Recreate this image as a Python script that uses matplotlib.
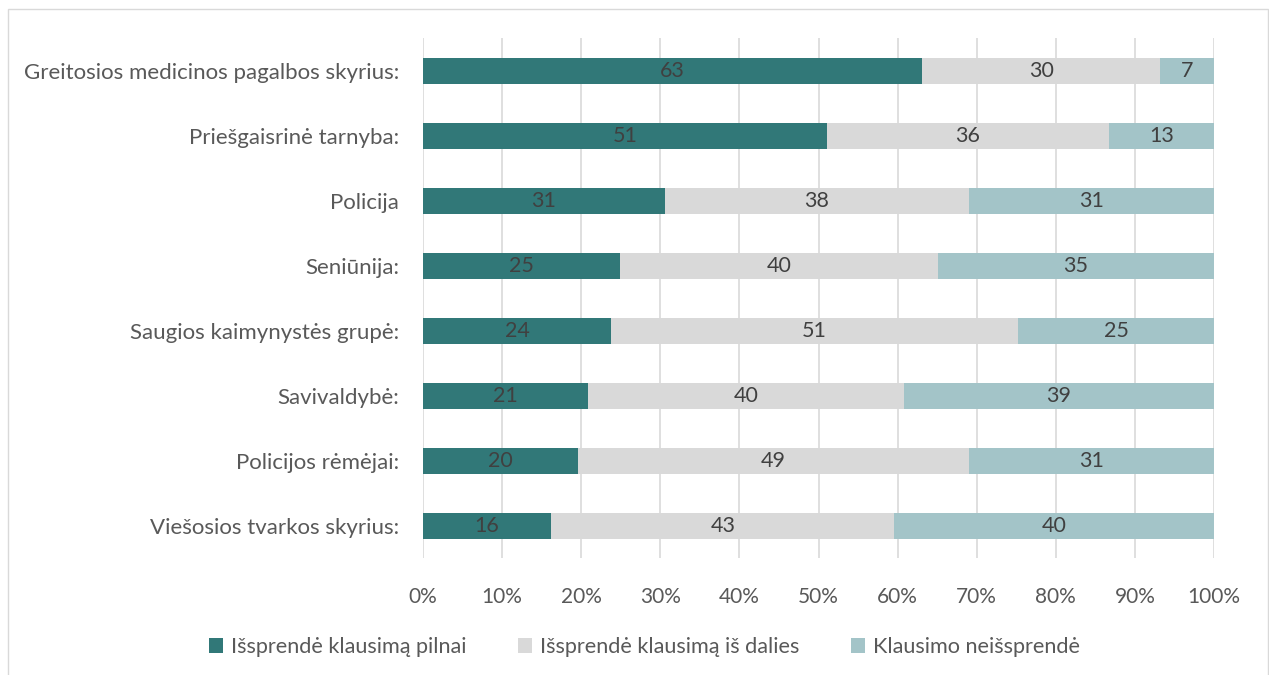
import matplotlib.pyplot as plt
from matplotlib.patches import Rectangle
from matplotlib.ticker import PercentFormatter

plt.rcParams['font.family'] = ['Lato', 'DejaVu Sans']

categories = ["Greitosios medicinos pagalbos skyrius:", "Priešgaisrinė tarnyba:",
              "Policija", "Seniūnija:", "Saugios kaimynystės grupė:",
              "Savivaldybė:", "Policijos rėmėjai:", "Viešosios tvarkos skyrius:"]
full = [63.1, 51.1, 30.6, 24.9, 23.8, 20.9, 19.6, 16.2]
partly = [30.1, 35.6, 38.4, 40.2, 51.4, 39.9, 49.4, 43.4]
unsolved = [6.8, 13.3, 31.0, 34.9, 24.8, 39.2, 31.0, 40.4]
series_names = ["Išsprendė klausimą pilnai", "Išsprendė klausimą iš dalies", "Klausimo neišsprendė"]
colors = ["#317878", "#D9D9D9", "#A3C4C8"]
text_col = "#595959"

fig = plt.figure(figsize=(12.69, 6.75), dpi=100)
ax = fig.add_axes([0.3333, 0.1733, 0.6234, 0.7704])

ypos = list(range(len(categories)))
left = [0] * len(categories)
for vals, name, col in zip([full, partly, unsolved], series_names, colors):
    bars = ax.barh(ypos, vals, left=left, height=0.4, color=col, label=name, zorder=3)
    ax.bar_label(bars, labels=["%.0f" % v for v in vals], label_type='center',
                 fontsize=15.5, color="#404040")
    left = [l + v for l, v in zip(left, vals)]

ax.set_xlim(0, 100)
ax.set_ylim(len(categories) - 0.5, -0.5)
ax.set_yticks(ypos)
ax.set_yticklabels(categories, fontsize=16, color=text_col)
ax.set_xticks(range(0, 101, 10))
ax.xaxis.set_major_formatter(PercentFormatter(decimals=0))
ax.tick_params(axis='x', labelsize=15, labelcolor=text_col, length=0, pad=21)
ax.tick_params(axis='y', length=0, pad=17)
ax.grid(axis='x', color="#D9D9D9", linewidth=1.2, zorder=0)
for s in ax.spines.values():
    s.set_visible(False)

ax.legend(loc='upper center', bbox_to_anchor=(0.28, -0.115), ncol=3, frameon=False,
          fontsize=15.6, labelcolor=text_col, handlelength=0.65, handleheight=0.65,
          handletextpad=0.35, columnspacing=2.4)

# thin chart frame like the spreadsheet export
fig.patches.append(Rectangle((8 / 1269, -0.01), 1 - 9 / 1269, 1 - 9 / 675 + 0.01,
                             transform=fig.transFigure, fill=False,
                             edgecolor="#D9D9D9", linewidth=1))

fig.savefig("out.png", dpi=100)
